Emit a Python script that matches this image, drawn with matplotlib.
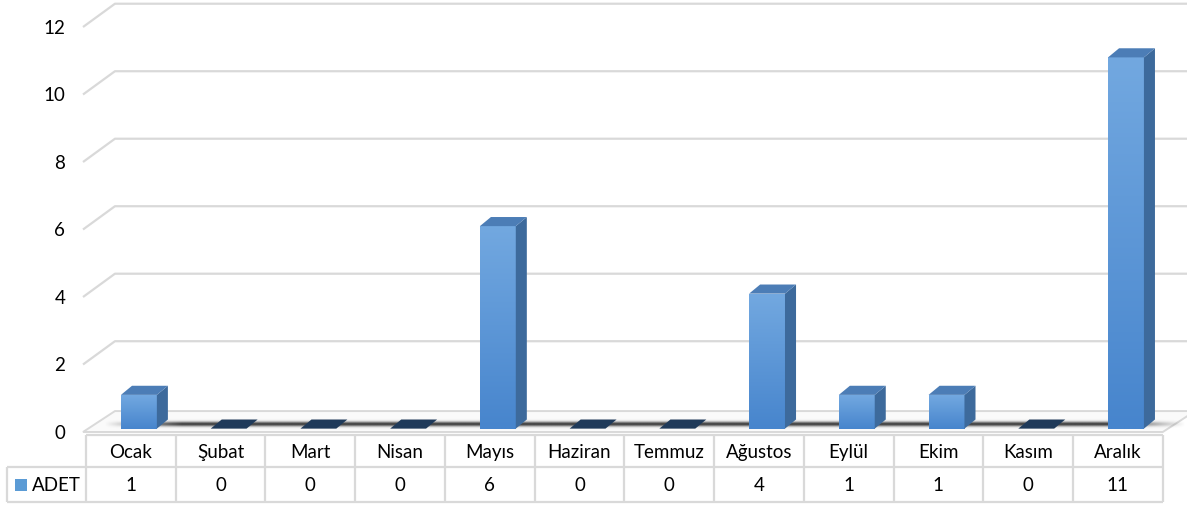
import numpy as np
import matplotlib
matplotlib.use('Agg')
import matplotlib.pyplot as plt
from matplotlib.patches import Polygon, Rectangle
from matplotlib.colors import to_rgb

# data
months = ['Ocak', 'Şubat', 'Mart', 'Nisan', 'Mayıs', 'Haziran', 'Temmuz',
          'Ağustos', 'Eylül', 'Ekim', 'Kasım', 'Aralık']
adet = [1, 0, 0, 0, 6, 0, 0, 4, 1, 1, 0, 11]
series_name = 'ADET'
y_ticks = [0, 2, 4, 6, 8, 10, 12]

plt.rcParams['font.family'] = ['Lato', 'DejaVu Sans']

fig = plt.figure(figsize=(11.87, 5.06), dpi=100)
ax = fig.add_axes([0, 0, 1, 1])

# depth offsets (data units): walls / floor and bars
wdx, wdy = 0.356, 0.69
bdx, bdy = 0.123, 0.27
x_wall = -0.033
base = 0.1          # bars stand on the floor, a bit above the front edge
grid_c = '#d9d9d9'
fs = 13.5

# gridlines on the back wall with the short diagonal on the side wall
for v in y_ticks[1:]:
    ax.plot([x_wall, x_wall + wdx, 12.4], [v, v + wdy, v + wdy],
            color=grid_c, lw=1.6, solid_capstyle='butt', zorder=1)

# floor
floor = Polygon([(x_wall, 0.0), (12.0, 0.0), (12.36, 0.62), (x_wall + wdx, 0.62)],
                closed=True, fc='#fafafa', ec=grid_c, lw=1.4, zorder=2)
ax.add_patch(floor)

# shadow band on the floor
nx, ny = 600, 40
yy = np.linspace(-1, 1, ny)[:, None]
xx = np.linspace(0, 1, nx)[None, :]
alpha = 0.95 * np.exp(-(yy / 0.4) ** 2) * np.clip(np.minimum(xx, 1 - xx) * 14, 0, 1)
shadow = np.zeros((ny, nx, 4))
shadow[..., :3] = 0.2
shadow[..., 3] = alpha
ax.imshow(shadow, extent=[0.2, 12.25, 0.06, 0.4], aspect='auto',
          interpolation='bilinear', zorder=3)

# bars
front_top = np.array(to_rgb('#72a8e0'))
front_bot = np.array(to_rgb('#4785cd'))
grad = np.linspace(front_top, front_bot, 64)[:, None, :]
for i, v in enumerate(adet):
    x0 = i + 0.39
    x1 = x0 + 0.40
    y0, y1 = base, base + v
    if v > 0:
        ax.imshow(grad, extent=[x0, x1, y0, y1], aspect='auto',
                  interpolation='bilinear', zorder=4)
        side = Polygon([(x1, y0), (x1 + bdx, y0 + bdy), (x1 + bdx, y1 + bdy), (x1, y1)],
                       closed=True, fc='#3d6a9c', ec='none', zorder=4)
        ax.add_patch(side)
        top_c = '#4c7db6'
    else:
        top_c = '#1f3a5a'
    top = Polygon([(x0, y1), (x1, y1), (x1 + bdx, y1 + bdy), (x0 + bdx, y1 + bdy)],
                  closed=True, fc=top_c, ec='none', zorder=5)
    ax.add_patch(top)

# y tick labels
for v in y_ticks:
    ax.text(-0.23, v, str(v), ha='right', va='center', fontsize=fs, color='black')

# data table
t_top, t_mid, t_bot = -0.089, -1.037, -2.074
legend_left = -0.88
ax.hlines(t_top, 0, 12, color=grid_c, lw=1.6)
ax.hlines([t_mid, t_bot], legend_left, 12, color=grid_c, lw=1.6)
ax.vlines(np.arange(13), t_top, t_bot, color=grid_c, lw=1.6)
ax.vlines(legend_left, t_mid, t_bot, color=grid_c, lw=1.6)

for i, (m, v) in enumerate(zip(months, adet)):
    ax.text(i + 0.5, (t_top + t_mid) / 2, m, ha='center', va='center',
            fontsize=fs, color='black')
    ax.text(i + 0.5, (t_mid + t_bot) / 2, str(v), ha='center', va='center',
            fontsize=fs, color='black')

ax.add_patch(Rectangle((-0.791, -1.74), 0.134, 0.356, fc='#5b9bd5', ec='none'))
ax.text(-0.602, (t_mid + t_bot) / 2, series_name, ha='left', va='center',
        fontsize=fs, color='black')

ax.set_xlim(-0.958, 12.27)
ax.set_ylim(-2.163, 12.83)
ax.axis('off')

fig.savefig('out.png', dpi=100)
